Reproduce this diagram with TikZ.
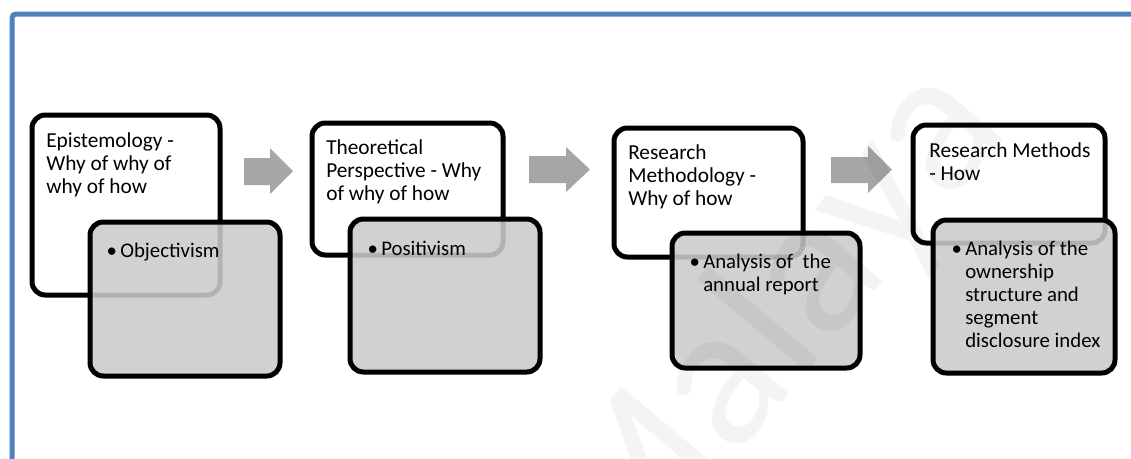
\documentclass[tikz,border=0pt]{standalone}
\usepackage{fontspec}
\setmainfont{Carlito}
\usetikzlibrary{fit}
\definecolor{frameblue}{RGB}{79,129,189}
\definecolor{boxgray}{RGB}{203,203,203}
\definecolor{arrowgray}{RGB}{166,166,166}
\newcommand{\headtext}[1]{\parbox[t]{200pt}{\raggedright\fontsize{16}{17.3}\selectfont #1}}
\newcommand{\itemtext}[1]{\parbox[t]{200pt}{\raggedright\fontsize{15.6}{17.3}\selectfont\leavevmode\llap{\textbullet\hspace{2.5pt}}#1}}
\begin{document}
\begin{tikzpicture}[x=0.75pt,y=-0.75pt,
  wbox/.style={draw=black, line width=3.75pt, rounded corners=10pt, fill=white, inner sep=0pt},
  gbox/.style={draw=black, line width=3.75pt, rounded corners=10pt, fill=boxgray, fill opacity=0.88, draw opacity=1, inner sep=0pt},
  label/.style={anchor=base west, inner sep=0pt, text=black},
  blockarrow/.style={fill=arrowgray, draw=none}]
\useasboundingbox (0,0) rectangle (1131,458);
\fill[white] (0,0) rectangle (1131,458);

% outer frame
\draw[frameblue, line width=3.75pt, rounded corners=3pt] (12,14) rectangle (1200,520);

% stage 1
\node[wbox, fit={(32,115) (220,295)}] (w1) {};
\node[label] (t1) at (46,147) {\headtext{Epistemology -\\Why of why of\\why of how}};
\node[gbox, fit={(90,222) (280,376)}] (g1) {};
\node[label] (s1) at (120,257) {\itemtext{Objectivism}};

% stage 2
\node[wbox, fit={(312,123) (503,255)}] (w2) {};
\node[label] (t2) at (326,154) {\headtext{Theoretical\\Perspective - Why\\of why of how}};
\node[gbox, fit={(350,219) (540,372)}] (g2) {};
\node[label] (s2) at (381,255) {\itemtext{Positivism}};

% stage 3
\node[wbox, fit={(614,128) (803,257)}] (w3) {};
\node[label] (t3) at (628,159) {\headtext{Research\\Methodology -\\Why of how}};
\node[gbox, fit={(672,233) (860,368)}] (g3) {};
\node[label] (s3) at (703,268) {\itemtext{Analysis of~ the\\annual report}};

% stage 4
\node[wbox, fit={(913,125) (1105,243)}] (w4) {};
\node[label] (t4) at (929,157) {\headtext{Research Methods\\- How}};
\node[gbox, fit={(933,220) (1115,373)}] (g4) {};
\node[label] (s4) at (965,255) {\itemtext{Analysis of the\\ownership\\structure and\\segment\\disclosure index}};

% block arrows between the stages
\fill[blockarrow] (244,158) -- (270,158) -- (270,148) -- (293,171) -- (270,194) -- (270,185) -- (244,185) -- cycle;
\fill[blockarrow] (529,156) -- (566,156) -- (566,147) -- (590,169.5) -- (566,192) -- (566,183) -- (529,183) -- cycle;
\fill[blockarrow] (831,157) -- (868,157) -- (868,146) -- (892,169.5) -- (868,193) -- (868,183) -- (831,183) -- cycle;

% watermark
\node[rotate=50, anchor=base west, inner sep=0pt, text=black, text opacity=0.045,
      font=\fontsize{155}{155}\selectfont] (wm) at (620,595) {Malaya};
\end{tikzpicture}
\end{document}
